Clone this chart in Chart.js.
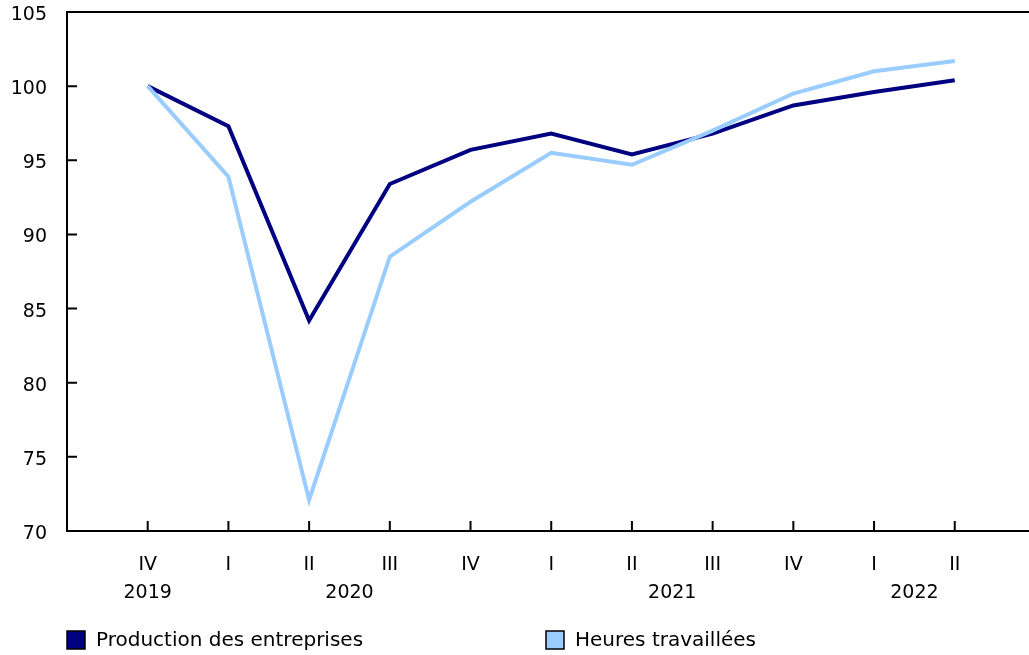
<!DOCTYPE html>
<html>
<head>
<meta charset="utf-8">
<script src="https://cdn.jsdelivr.net/npm/chart.js@4"></script>
<style>
  html, body { margin: 0; padding: 0; background: #fff; }
  #wrap { width: 1029px; height: 655px; position: relative; }
</style>
</head>
<body>
<div id="wrap"><canvas id="chart"></canvas></div>
<script>
// Trimestres (axe des x) et années correspondantes
const quarters = ["IV", "I", "II", "III", "IV", "I", "II", "III", "IV", "I", "II"];
const years = ["2019", "2020", "2020", "2020", "2020", "2021", "2021", "2021", "2021", "2022", "2022"];

// Indices (IV 2019 = 100)
const production = [100, 97.3, 84.2, 93.4, 95.7, 96.8, 95.4, 96.8, 98.7, 99.6, 100.4];
const heures = [100, 93.9, 72.1, 88.5, 92.2, 95.5, 94.7, 97.0, 99.5, 101.0, 101.7];

const seriesNames = ["Production des entreprises", "Heures travaillées"];
const seriesColors = ["#000080", "#99ccff"];

const yTicks = [70, 75, 80, 85, 90, 95, 100, 105];

const FONT = "Verdana, 'DejaVu Sans', sans-serif";

// ticks vers l'intérieur, ligne du haut, années et légende
const decorPlugin = {
  id: "decor",
  afterDraw(chart) {
    const { ctx, chartArea, scales } = chart;
    const xs = scales.x, ys = scales.y;
    ctx.save();
    ctx.strokeStyle = "#000";
    ctx.lineWidth = 2;

    // ligne du haut
    ctx.beginPath();
    ctx.moveTo(chartArea.left, chartArea.top);
    ctx.lineTo(chartArea.right, chartArea.top);
    ctx.stroke();

    // petites marques
    ctx.beginPath();
    quarters.forEach((q, i) => {
      const px = xs.getPixelForValue(i + 1);
      ctx.moveTo(px, chartArea.bottom);
      ctx.lineTo(px, chartArea.bottom - 10);
    });
    yTicks.forEach(v => {
      const py = ys.getPixelForValue(v);
      ctx.moveTo(chartArea.left, py);
      ctx.lineTo(chartArea.left + 10, py);
    });
    ctx.stroke();

    // années centrées sous leurs trimestres
    ctx.fillStyle = "#000";
    ctx.font = "19px " + FONT;
    ctx.textAlign = "center";
    ctx.textBaseline = "middle";
    let start = 0;
    for (let i = 1; i <= years.length; i++) {
      if (i === years.length || years[i] !== years[start]) {
        const a = xs.getPixelForValue(start + 1);
        const b = xs.getPixelForValue(i);
        ctx.fillText(years[start], (a + b) / 2, chartArea.bottom + 62);
        start = i;
      }
    }

    // légende
    const legendX = [67, 546];
    const legendY = 640;
    ctx.textAlign = "left";
    ctx.font = "20px " + FONT;
    chart.data.datasets.forEach((ds, i) => {
      ctx.fillStyle = ds.borderColor;
      ctx.fillRect(legendX[i], legendY - 9, 18, 18);
      ctx.lineWidth = 1.5;
      ctx.strokeStyle = "#000";
      ctx.strokeRect(legendX[i], legendY - 9, 18, 18);
      ctx.fillStyle = "#000";
      ctx.fillText(ds.label, legendX[i] + 29, legendY + 1);
    });
    ctx.restore();
  }
};

const ctx = document.getElementById("chart").getContext("2d");

new Chart(ctx, {
  type: "line",
  data: {
    datasets: [
      {
        label: seriesNames[0],
        data: production.map((v, i) => ({ x: i + 1, y: v })),
        borderColor: seriesColors[0],
        backgroundColor: seriesColors[0],
        borderWidth: 4,
        pointRadius: 0,
        tension: 0,
        order: 2
      },
      {
        label: seriesNames[1],
        data: heures.map((v, i) => ({ x: i + 1, y: v })),
        borderColor: seriesColors[1],
        backgroundColor: seriesColors[1],
        borderWidth: 4,
        pointRadius: 0,
        tension: 0,
        order: 1
      }
    ]
  },
  options: {
    responsive: true,
    maintainAspectRatio: false,
    animation: false,
    layout: { autoPadding: false, padding: { top: 12, left: 0, right: 0, bottom: 0 } },
    plugins: {
      legend: { display: false },
      tooltip: { enabled: false }
    },
    scales: {
      x: {
        type: "linear",
        min: 0,
        max: 11.92,
        afterFit(scale) {
          scale.height = 124;
          scale.paddingLeft = 0;
          scale.paddingRight = 0;
        },
        afterBuildTicks(scale) {
          scale.ticks = quarters.map((q, i) => ({ value: i + 1 }));
        },
        grid: { display: false, drawTicks: false },
        border: { display: true, color: "#000", width: 2 },
        ticks: {
          padding: 23,
          color: "#000",
          font: { family: FONT, size: 19 },
          maxRotation: 0,
          autoSkip: false,
          callback: v => quarters[v - 1] || ""
        }
      },
      y: {
        min: 70,
        max: 105,
        afterFit(scale) {
          scale.width = 67;
          scale.paddingTop = 0;
          scale.paddingBottom = 0;
        },
        afterBuildTicks(scale) {
          scale.ticks = yTicks.map(v => ({ value: v }));
        },
        grid: { display: false, drawTicks: false },
        border: { display: true, color: "#000", width: 2 },
        ticks: {
          padding: 20,
          labelOffset: 3,
          color: "#000",
          font: { family: FONT, size: 19 }
        }
      }
    }
  },
  plugins: [decorPlugin]
});
</script>
</body>
</html>
